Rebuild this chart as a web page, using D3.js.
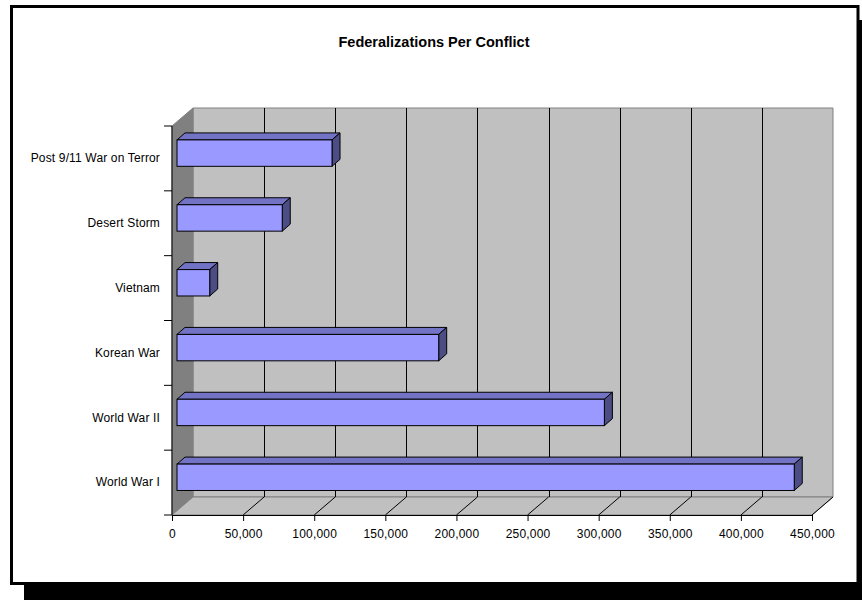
<!DOCTYPE html>
<html>
<head>
<meta charset="utf-8">
<script src="https://cdn.jsdelivr.net/npm/d3@7"></script>
<style>
html,body{margin:0;padding:0;background:#fff;}
svg{display:block;}
text{font-family:"Liberation Sans",Arial,sans-serif;fill:#000;}
</style>
</head>
<body>
<svg id="chart" width="862" height="600"></svg>
<script>
// ---- data ----
const title = "Federalizations Per Conflict";
const categories = ["World War I", "World War II", "Korean War", "Vietnam", "Desert Storm", "Post 9/11 War on Terror"];
const values = [434000, 300500, 184000, 23000, 74000, 109000];
const tickValues = [0, 50000, 100000, 150000, 200000, 250000, 300000, 350000, 400000, 450000];

const FONT = "'Liberation Sans', Arial, sans-serif";

// ---- layout ----
const svg = d3.select("#chart");
const depthX = 21, depthY = -18;       // 3D depth vector (front -> back wall)
const x = d3.scaleLinear().domain([0, 450000]).range([172, 812]);
const y = d3.scaleBand().domain(categories).range([515, 126]);
const floorY = 515, topY = 126;

// frame shadow + frame
svg.append("rect").attr("x", 24).attr("y", 20).attr("width", 860).attr("height", 600).attr("fill", "#000");
svg.append("rect").attr("x", 11.5).attr("y", 6.5).attr("width", 846.5).attr("height", 577)
  .attr("fill", "#fff").attr("stroke", "#000").attr("stroke-width", 3);

// title
svg.append("text").attr("x", 434).attr("y", 46.5).attr("text-anchor", "middle")
  .style("font-family", FONT).style("font-size", "14.5px").style("font-weight", "bold").text(title);

const x0 = x(0), x1 = x(450000);
const pt = (px, py) => px + "," + py;

// back wall
svg.append("polygon")
  .attr("points", [pt(x0 + depthX, floorY + depthY), pt(x0 + depthX, topY + depthY), pt(x1 + depthX, topY + depthY), pt(x1 + depthX, floorY + depthY)].join(" "))
  .attr("fill", "#c0c0c0").attr("stroke", "#808080").attr("stroke-width", 1);
// side wall
svg.append("polygon")
  .attr("points", [pt(x0, floorY), pt(x0, topY), pt(x0 + depthX, topY + depthY), pt(x0 + depthX, floorY + depthY)].join(" "))
  .attr("fill", "#808080").attr("stroke", "#808080").attr("stroke-width", 1);
// floor
svg.append("polygon")
  .attr("points", [pt(x0, floorY), pt(x0 + depthX, floorY + depthY), pt(x1 + depthX, floorY + depthY), pt(x1, floorY)].join(" "))
  .attr("fill", "#c0c0c0").attr("stroke", "#808080").attr("stroke-width", 1);

// gridlines on wall and floor
const grid = svg.append("g");
tickValues.filter(v => v > 0 && v < 450000).forEach(v => {
  const gx = Math.round(x(v) + depthX) + 0.5;
  grid.append("line").attr("x1", gx).attr("x2", gx).attr("y1", topY + depthY).attr("y2", floorY + depthY)
    .attr("stroke", "#000").attr("stroke-width", 1);
});
tickValues.filter(v => v > 0).forEach(v => {
  grid.append("line").attr("x1", x(v)).attr("y1", floorY).attr("x2", x(v) + depthX).attr("y2", floorY + depthY)
    .attr("stroke", "#000").attr("stroke-width", 1);
});

// bars (3D)
const barH = 26.4, frontDX = 5, frontDY = -5.3, bdx = 8, bdy = -7;
const bars = svg.append("g");
categories.forEach((c, i) => {
  const cy = y(c) + y.bandwidth() / 2 + frontDY;
  const yt = cy - barH / 2, yb = cy + barH / 2;
  const xl = x(0) + frontDX, xr = x(values[i]) + frontDX;
  bars.append("polygon")
    .attr("points", [pt(xl, yt), pt(xl + bdx, yt + bdy), pt(xr + bdx, yt + bdy), pt(xr, yt)].join(" "))
    .attr("fill", "#7373c6").attr("stroke", "#000").attr("stroke-width", 1).attr("stroke-linejoin", "round");
  bars.append("polygon")
    .attr("points", [pt(xr, yt), pt(xr + bdx, yt + bdy), pt(xr + bdx, yb + bdy), pt(xr, yb)].join(" "))
    .attr("fill", "#4d4d85").attr("stroke", "#000").attr("stroke-width", 1).attr("stroke-linejoin", "round");
  bars.append("rect").attr("x", xl).attr("y", yt).attr("width", xr - xl).attr("height", barH)
    .attr("fill", "#9999ff").attr("stroke", "#000").attr("stroke-width", 1);
});

// x axis
const xAxis = d3.axisBottom(x).tickValues(tickValues).tickFormat(d3.format(",")).tickSize(6).tickSizeOuter(0).tickPadding(8);
const gx = svg.append("g").attr("transform", "translate(0," + floorY + ")").call(xAxis);
gx.attr("font-family", null).attr("font-size", null);
gx.selectAll("text").style("font-size", "12px").style("letter-spacing", "0.2px").style("font-family", FONT).attr("fill", "#000");
gx.selectAll("line,path").attr("stroke", "#000");

// y axis (labels centered in bands, ticks at band boundaries)
const yAxis = d3.axisLeft(y).tickSize(0).tickPadding(12);
const gy = svg.append("g").attr("transform", "translate(" + x0 + ",0)").call(yAxis);
gy.attr("font-family", null).attr("font-size", null);
gy.select(".domain").remove();
gy.selectAll("text").style("font-size", "12px").style("letter-spacing", "0.15px").style("font-family", FONT).attr("fill", "#000");
svg.append("line").attr("x1", x0).attr("x2", x0).attr("y1", topY).attr("y2", floorY).attr("stroke", "#000");
const bounds = categories.map(c => y(c) + y.bandwidth()).concat([y(categories[categories.length - 1])]);
bounds.forEach(b => {
  svg.append("line").attr("x1", x0 - 8).attr("x2", x0).attr("y1", b).attr("y2", b).attr("stroke", "#000");
});
</script>
</body>
</html>
